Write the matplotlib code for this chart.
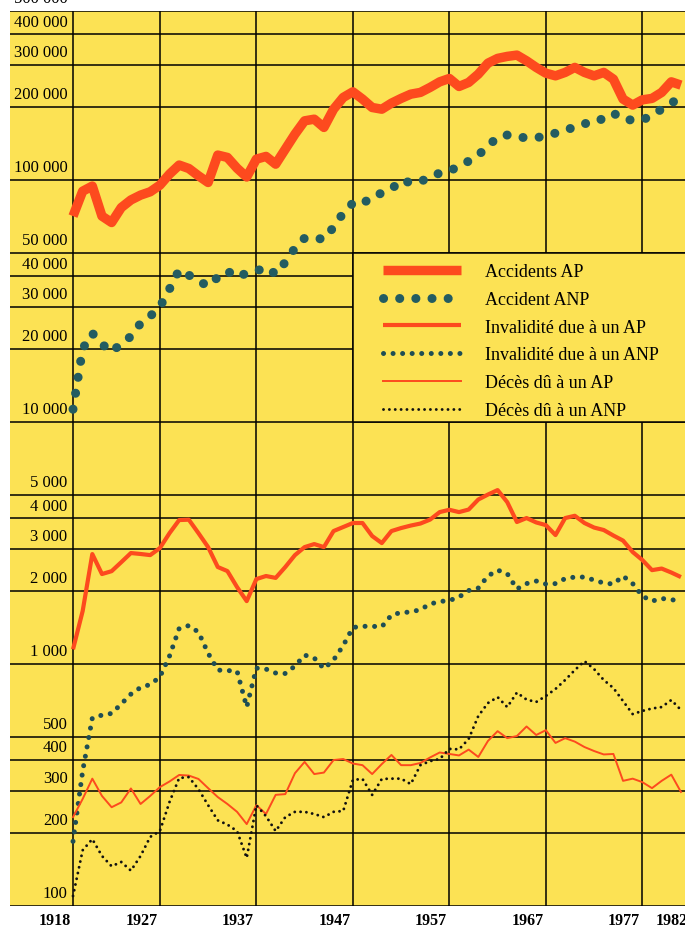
import numpy as np
import matplotlib.pyplot as plt
from matplotlib.lines import Line2D
from matplotlib.patches import Rectangle

# --- data ---
years = np.arange(1918, 1982)

accidents_ap = [71000, 90000, 94500, 71000, 66800, 77000, 82800, 86700, 89500, 95300,
                105900, 115400, 111700, 104200, 97800, 126900, 124100, 112000, 103000, 122100,
                125300, 116400, 134300, 154900, 175800, 178600, 165100, 196400, 219600, 231700,
                216200, 199600, 196400, 208000, 217600, 226600, 230400, 241600, 254800, 263100,
                243800, 253300, 274200, 304300, 318500, 324600, 328600, 311200, 292300, 276700,
                269800, 278700, 292300, 278700, 269800, 278700, 261400, 216200, 204200, 214700,
                217600, 230400, 254800, 247000]

accident_anp = [11300, 20100, 23300, 21000, 19500, 21100, 22600, 25600, 27400, 29900,
                35500, 42500, 40500, 38300, 36500, 39700, 42100, 39700, 41300, 42100,
                43600, 40900, 45800, 52400, 57600, 57600, 57000, 63900, 73100, 80400,
                79600, 85900, 88300, 91800, 100000, 97500, 98500, 103300, 106900, 108900,
                114300, 119800, 126900, 138200, 150500, 153600, 150500, 149800, 149800, 152100,
                156400, 161000, 165600, 171200, 172900, 180300, 189200, 178600, 177000, 177000,
                185700, 196400, 208000, 220400]

invalidite_ap = [1150, 1656, 2848, 2355, 2420, 2636, 2876, 2850, 2820, 3014,
                 3475, 3936, 3950, 3475, 3043, 2518, 2422, 2080, 1820, 2245,
                 2311, 2270, 2518, 2820, 3043, 3132, 3043, 3545, 3683, 3827,
                 3827, 3381, 3162, 3545, 3648, 3735, 3808, 3953, 4246, 4341,
                 4246, 4350, 4786, 5018, 5236, 4668, 3864, 4012, 3848, 3751,
                 3412, 4012, 4100, 3827, 3665, 3580, 3397, 3237, 2904, 2691,
                 2444, 2481, 2389, 2288]

invalidite_anp = [185, 361, 598, 615, 625, 684, 751, 800, 823, 884,
                  1079, 1402, 1442, 1355, 1109, 944, 940, 935, 664, 962,
                  953, 918, 914, 981, 1089, 1059, 957, 1039, 1192, 1416,
                  1432, 1432, 1426, 1594, 1633, 1640, 1679, 1770, 1813, 1830,
                  1892, 2013, 2062, 2311, 2444, 2364, 2042, 2150, 2203, 2141,
                  2150, 2255, 2288, 2288, 2223, 2161, 2141, 2311, 2150, 1910,
                  1820, 1866, 1847, 1815]

deces_ap = [233, 277, 336, 285, 256, 268, 306, 264, 285, 310,
            327, 348, 346, 335, 307, 282, 264, 245, 218, 261,
            240, 288, 290, 354, 394, 351, 356, 401, 405, 388,
            382, 351, 386, 421, 382, 382, 390, 411, 431, 425,
            419, 443, 413, 481, 528, 494, 504, 552, 509, 533,
            472, 494, 478, 454, 437, 423, 425, 329, 336, 325,
            307, 329, 349, 296]

deces_anp = [110, 170, 189, 161, 146, 152, 140, 161, 193, 204,
             269, 338, 341, 304, 261, 226, 217, 204, 158, 261,
             235, 204, 233, 245, 245, 240, 233, 245, 247, 332,
             335, 288, 335, 336, 336, 319, 382, 397, 405, 446,
             444, 490, 610, 690, 730, 664, 762, 713, 697, 738,
             789, 859, 944, 1028, 953, 859, 796, 703, 621, 640,
             655, 664, 710, 646]

grid_values = [500000, 400000, 300000, 200000, 100000, 50000, 40000, 30000, 20000, 10000,
               5000, 4000, 3000, 2000, 1000, 500, 400, 300, 200, 100]
grid_labels = ['500 000', '400 000', '300 000', '200 000', '100 000', '50 000', '40 000',
               '30 000', '20 000', '10 000', '5 000', '4 000', '3 000', '2 000', '1 000',
               '500', '400', '300', '200', '100']
year_lines = [1918, 1927, 1937, 1947, 1957, 1967, 1977]
year_labels = [1918, 1927, 1937, 1947, 1957, 1967, 1977, 1982]

labels = ['Accidents AP', 'Accident ANP', 'Invalidité due à un AP',
          'Invalidité due à un ANP', 'Décès dû à un AP', 'Décès dû à un ANP']

YELLOW = '#fce254'
RED = '#fd4a1e'
TEAL = '#235c61'
SERIF = 'Liberation Serif'

fig = plt.figure(figsize=(6.85, 9.28), dpi=100)
ax = fig.add_axes([10 / 685, 21 / 928, 675 / 685, 895 / 928])
ax.set_facecolor(YELLOW)
ax.set_yscale('log')
ax.set_xlim(1911.47, 1981.42)
ax.set_ylim(100, 500000)
for s in ax.spines.values():
    s.set_visible(False)
ax.tick_params(which='both', left=False, bottom=False, labelleft=False, labelbottom=False)

# grid
for v in grid_values:
    ax.axhline(v, color='black', lw=1.1, zorder=1)
for yr in year_lines:
    ax.axvline(yr, color='black', lw=1.1, zorder=1)

# legend box covering the grid
ax.add_patch(Rectangle((1947, 10000), 60, 40000, facecolor=YELLOW,
                       edgecolor='black', lw=1.1, zorder=1.5))

styles = [
    dict(color=RED, lw=6.8, solid_capstyle='butt'),
    dict(color=TEAL, lw=6.5, linestyle=(0, (0.01, 1.78)), dash_capstyle='round'),
    dict(color=RED, lw=3.0, solid_capstyle='butt'),
    dict(color='#1f4e54', lw=3.6, linestyle=(0, (0.01, 1.9)), dash_capstyle='round'),
    dict(color=RED, lw=1.4),
    dict(color='#111111', lw=2.1, linestyle=(0, (0.01, 2.0)), dash_capstyle='round'),
]
series = [accidents_ap, accident_anp, invalidite_ap, invalidite_anp, deces_ap, deces_anp]

for vals, st in zip(series, styles):
    ax.plot(years, vals, zorder=3, **st)

# y labels sitting just above their lines
for v, lab in zip(grid_values, grid_labels):
    ax.annotate(lab, (1917.43, v), xytext=(0, 3.5), textcoords='offset points',
                ha='right', va='bottom', fontsize=12, family=SERIF,
                annotation_clip=False)

# year labels, right-aligned on the vertical lines
for yr in year_labels:
    ax.annotate(str(yr), (yr - 0.25, 100), xytext=(0, -4), textcoords='offset points',
                ha='right', va='top', fontsize=11.5, fontweight='bold', family=SERIF,
                annotation_clip=False)

handles = [Line2D([], [], **st) for st in styles]
ax.legend(handles, labels, loc='upper left', bbox_to_anchor=(383 / 685, 1 - 264 / 928),
          bbox_transform=fig.transFigure, frameon=False,
          prop={'family': SERIF, 'size': 13}, handlelength=4.3, handletextpad=1.35,
          labelspacing=0.6, borderpad=0, borderaxespad=0)

fig.savefig('out.png', dpi=100, facecolor='white')
